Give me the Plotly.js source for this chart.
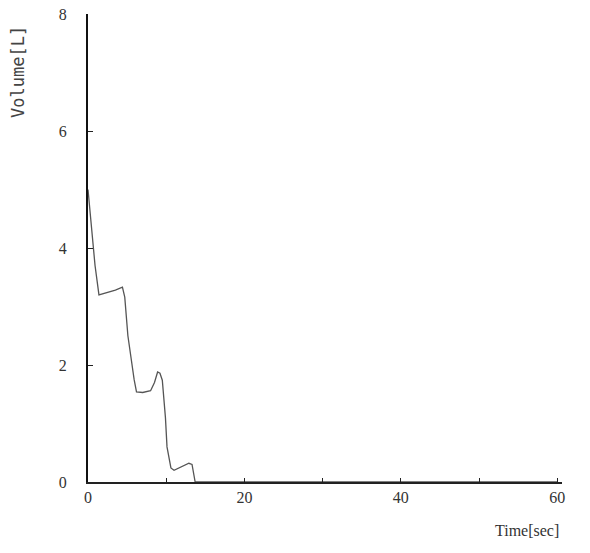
<!DOCTYPE html>
<html><head><meta charset="utf-8">
<script src="https://cdn.plot.ly/plotly-3.0.1.min.js"></script>
<style>html,body{margin:0;padding:0;background:#fff}</style>
</head><body><div id="chart" style="width:590px;height:553px"></div>
<script>
const timeSec = [0, 0.5, 0.9, 1.4, 2.5, 3.5, 4.4, 4.7, 5.1, 5.5, 5.9, 6.2, 7.0, 8.0, 8.5, 8.9, 9.2, 9.5, 9.9, 10.1, 10.6, 11.0, 12.0, 12.9, 13.3, 13.7, 20, 30, 40, 50, 60];
const volumeL = [5.0, 4.3, 3.7, 3.2, 3.24, 3.28, 3.33, 3.16, 2.5, 2.1, 1.75, 1.54, 1.53, 1.56, 1.7, 1.88, 1.86, 1.74, 1.1, 0.6, 0.24, 0.2, 0.26, 0.32, 0.3, 0.0, 0.0, 0.0, 0.0, 0.0, 0.0];
const xTickVals = [0, 10, 20, 30, 40, 50, 60];
const xTickText = ['0', '', '20', '', '40', '', '60'];
const yTickVals = [0, 2, 4, 6, 8];
const yTickText = ['0', '2', '4', '6', '8'];

const fontFam = 'Liberation Serif, DejaVu Serif, serif';
const data = [{
  x: timeSec, y: volumeL, type: 'scatter', mode: 'lines',
  line: {color: '#555', width: 1.3}, showlegend: false
}];
const layout = {
  width: 590, height: 553,
  margin: {l: 88, r: 28, t: 14, b: 71},
  paper_bgcolor: '#fff', plot_bgcolor: '#fff',
  font: {family: fontFam, size: 16, color: '#333'},
  xaxis: {
    range: [0, 60.6], tickvals: xTickVals, ticktext: xTickText,
    ticks: 'inside', ticklen: 4, tickcolor: '#222', tickwidth: 1,
    showline: true, linecolor: '#222', linewidth: 1.5,
    showgrid: false, zeroline: false, fixedrange: true
  },
  yaxis: {
    range: [0, 8], tickvals: yTickVals, ticktext: yTickText,
    ticks: 'inside', ticklen: 5, tickcolor: '#222', tickwidth: 1,
    ticklabelstandoff: 16,
    showline: true, linecolor: '#111', linewidth: 2,
    showgrid: false, zeroline: false, fixedrange: true
  },
  annotations: [
    {text: 'Volume[L]', xref: 'paper', yref: 'paper', x: -0.148, y: 0.876,
     xanchor: 'center', yanchor: 'middle', textangle: -90, showarrow: false,
     font: {family: 'DejaVu Sans Mono, Liberation Mono, monospace', size: 17, color: '#444'}},
    {text: 'Time[sec]', xref: 'paper', yref: 'paper', x: 0.926, y: -0.103,
     xanchor: 'center', yanchor: 'middle', showarrow: false,
     font: {family: fontFam, size: 16, color: '#333'}}
  ]
};
Plotly.newPlot('chart', data, layout, {displayModeBar: false, staticPlot: true});
</script></body></html>
